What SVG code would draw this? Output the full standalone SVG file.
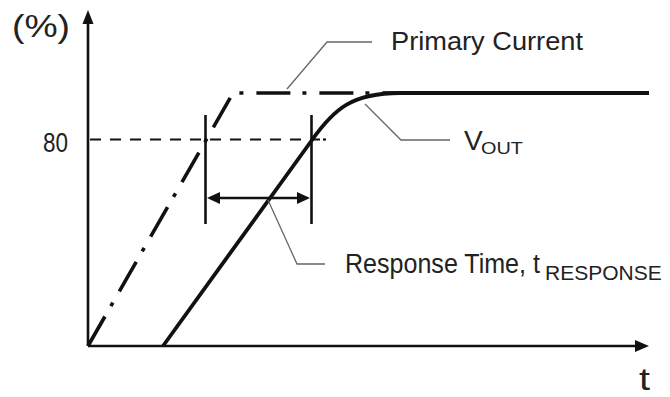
<svg xmlns="http://www.w3.org/2000/svg" width="670" height="397" viewBox="0 0 670 397">
<style>
  .txt { font-family: "Liberation Sans", Arial, sans-serif; fill: #222; }
  .axis { stroke: #111; stroke-width: 2.6; fill: none; }
  .curve { stroke: #111; stroke-width: 3.8; fill: none; }
  .dashdot { stroke: #111; stroke-width: 3.6; fill: none; stroke-dasharray: 34 12 4 13; }
  .thin { stroke: #111; stroke-width: 2.6; fill: none; }
  .dash80 { stroke: #111; stroke-width: 2.2; fill: none; stroke-dasharray: 11 9; }
  .leader { stroke: #666; stroke-width: 1.3; fill: none; }
  .head { fill: #111; stroke: none; }
</style>
<rect width="670" height="397" fill="#fff"/>
<g id="axes">
  <line class="axis" x1="88" y1="346" x2="88" y2="20"/>
  <polygon class="head" points="88,10 82.5,24 93.5,24"/>
  <line class="axis" x1="88" y1="346" x2="638" y2="346"/>
  <polygon class="head" points="649,346 635,340 635,352"/>
  <text class="txt" x="12" y="37" font-size="31" textLength="58" lengthAdjust="spacingAndGlyphs">(%)</text>
  <text class="txt" x="43" y="152" font-size="28" textLength="25" lengthAdjust="spacingAndGlyphs">80</text>
  <text class="txt" x="639" y="390" font-size="32" textLength="11" lengthAdjust="spacingAndGlyphs">t</text>
</g>
<g id="connectors">
  <line class="dash80" x1="90" y1="139.5" x2="320" y2="139.5"/>
  <line class="dash80" x1="323" y1="139.5" x2="326" y2="139.5"/>
  <path class="dashdot" d="M88,346 L233,93 L649,93"/>
  <path class="curve" d="M163,346 L312,140 C334,109 352,93 400,93 L649,93"/>
  <line class="thin" x1="205.5" y1="115" x2="205.5" y2="224"/>
  <line class="thin" x1="311.5" y1="115" x2="311.5" y2="224"/>
  <line class="thin" x1="215" y1="198" x2="302" y2="198"/>
  <polygon class="head" points="207,198 220,192 220,204"/>
  <polygon class="head" points="310,198 297,192 297,204"/>
  <polyline class="leader" points="287,89 327,42 372,42"/>
  <polyline class="leader" points="365,104 401,140 450,140"/>
  <polyline class="leader" points="268,200 297,264 325,264"/>
</g>
<g id="label-primary">
  <text class="txt" x="391" y="50" font-size="25" textLength="192" lengthAdjust="spacingAndGlyphs">Primary Current</text>
</g>
<g id="label-vout">
  <text class="txt" x="464" y="150" font-size="28">V<tspan x="481" y="154" font-size="17" textLength="42" lengthAdjust="spacingAndGlyphs">OUT</tspan></text>
</g>
<g id="label-response">
  <g transform="translate(345,273) scale(0.895,1)">
    <text class="txt" x="0" y="0" font-size="28">Response Time, t</text>
  </g>
  <text class="txt" x="545" y="280" font-size="21">RESPONSE</text>
</g>
</svg>
